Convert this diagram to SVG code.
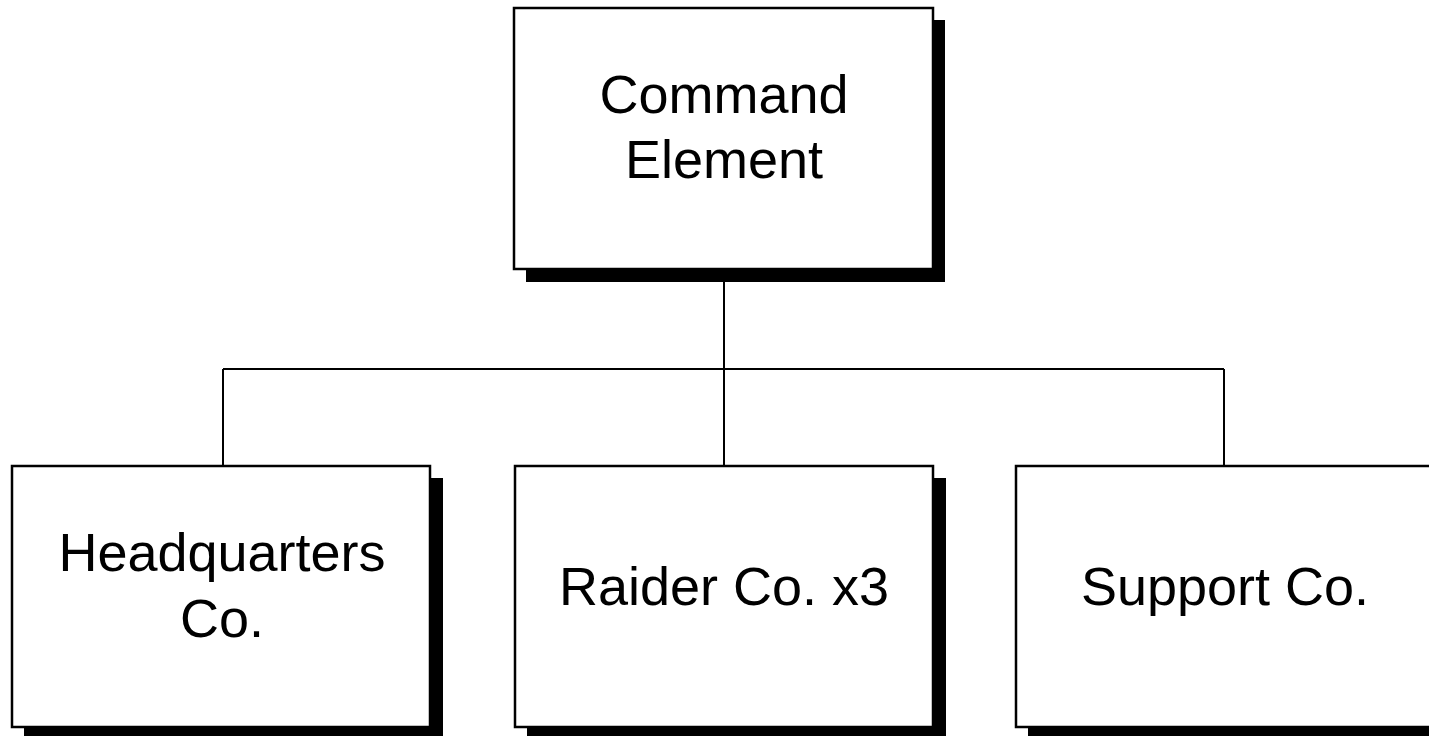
<svg xmlns="http://www.w3.org/2000/svg" width="1429" height="736" viewBox="0 0 1429 736">
<style>
.box{fill:#fff;stroke:#000;stroke-width:2.5}
.shadow{fill:#000}
.lbl{font-family:"Liberation Sans",Arial,sans-serif;font-size:54px;fill:#000;text-anchor:middle}
.conn{stroke:#000;stroke-width:2;fill:none}
</style>
<rect width="1429" height="736" fill="#fff"/>
<g id="connectors">
<path class="conn" d="M724 269 V466 M223 369 H1224 M223 369 V466 M1224 369 V466"/>
</g>
<g id="command">
<rect class="shadow" x="526" y="20" width="419" height="262"/>
<rect class="box" x="514" y="8" width="419" height="261"/>
<text class="lbl" x="724" y="113">Command</text>
<text class="lbl" x="724" y="178">Element</text>
</g>
<g id="hq">
<rect class="shadow" x="24" y="478" width="419" height="262"/>
<rect class="box" x="12" y="466" width="418" height="261"/>
<text class="lbl" x="222" y="571">Headquarters</text>
<text class="lbl" x="222" y="637">Co.</text>
</g>
<g id="raider">
<rect class="shadow" x="527" y="478" width="419" height="262"/>
<rect class="box" x="515" y="466" width="418" height="261"/>
<text class="lbl" x="724" y="605">Raider Co. x3</text>
</g>
<g id="support">
<rect class="shadow" x="1028" y="478" width="419" height="262"/>
<rect class="box" x="1016" y="466" width="418" height="261"/>
<text class="lbl" x="1225" y="605">Support Co.</text>
</g>
</svg>
